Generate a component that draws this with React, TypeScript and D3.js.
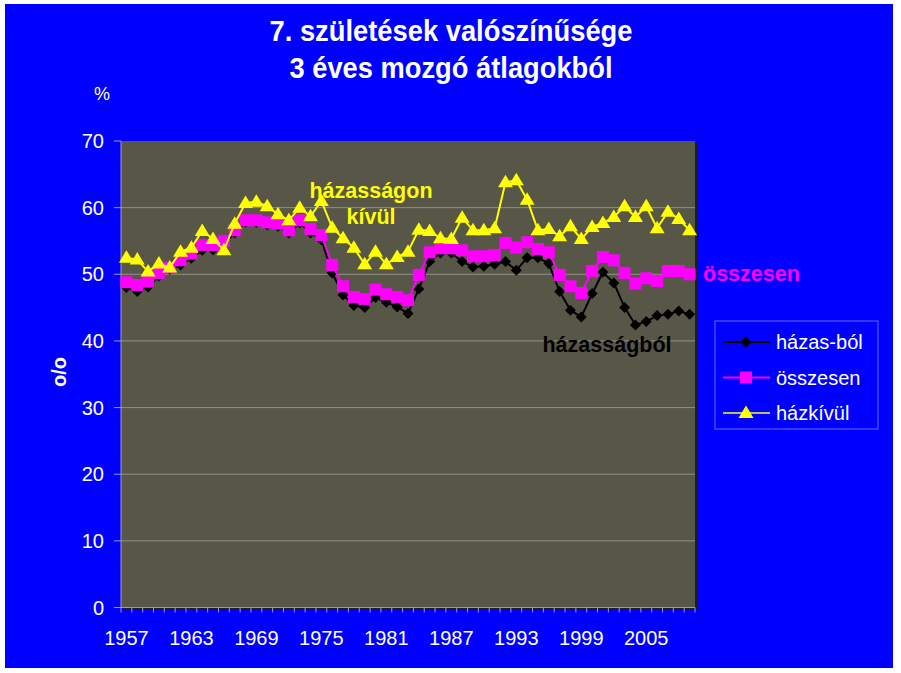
import React from "react";
import * as d3 from "d3";

const years: number[] = d3.range(1957, 2010);

const hazas: number[] = [
  48.0, 47.4, 48.1, 49.7, 50.7, 51.4, 52.4, 53.6, 53.7, 54.6,
  56.2, 57.8, 57.8, 57.4, 57.2, 56.2, 57.7, 56.2, 55.2, 50.2,
  46.9, 45.3, 45.0, 46.5, 45.8, 45.1, 44.1, 47.8, 51.9, 53.2,
  53.2, 51.9, 51.1, 51.2, 51.5, 51.9, 50.6, 52.5, 52.5, 51.6,
  47.4, 44.6, 43.6, 47.1, 50.3, 48.7, 45.0, 42.4, 42.9, 43.8,
  44.0, 44.5, 44.0,
];

const osszesen: number[] = [
  48.8, 48.4, 48.9, 50.2, 51.0, 52.1, 53.1, 54.4, 54.4, 55.0,
  56.6, 58.1, 58.1, 57.8, 57.6, 56.6, 58.1, 56.8, 55.9, 51.4,
  48.2, 46.6, 46.3, 47.7, 47.0, 46.6, 46.1, 49.9, 53.3, 53.9,
  53.9, 53.6, 52.7, 52.7, 52.9, 54.7, 54.0, 54.8, 53.8, 53.3,
  49.9, 48.2, 47.2, 50.5, 52.6, 52.1, 50.2, 48.6, 49.4, 49.0,
  50.5, 50.5, 50.0,
];

const hazkivul: number[] = [
  52.5, 52.2, 50.4, 51.6, 51.0, 53.4, 54.0, 56.5, 55.3, 53.6,
  57.6, 60.7, 60.9, 60.2, 59.0, 58.1, 60.0, 58.7, 61.0, 57.0,
  55.4, 54.0, 51.5, 53.4, 51.5, 52.6, 53.4, 56.7, 56.5, 55.4,
  55.3, 58.5, 56.6, 56.6, 56.9, 63.8, 64.1, 61.2, 56.6, 56.8,
  55.7, 57.2, 55.3, 57.1, 57.7, 58.6, 60.2, 58.6, 60.2, 56.9,
  59.4, 58.3, 56.6,
];

const yTicks: number[] = [0, 10, 20, 30, 40, 50, 60, 70];
const xLabelYears: number[] = [1957, 1963, 1969, 1975, 1981, 1987, 1993, 1999, 2005];

const titleLines: string[] = ["7. születések valószínűsége", "3 éves mozgó átlagokból"];
const seriesNames: string[] = ["házas-ból", "összesen", "házkívül"];

const FONT = "'Liberation Sans', Arial, Helvetica, sans-serif";

type Shape = "diamond" | "square" | "triangle";

function markerPath(shape: Shape, x: number, y: number): string {
  if (shape === "diamond") {
    const r = 5.5;
    return `M${x},${y - r}L${x + r},${y}L${x},${y + r}L${x - r},${y}Z`;
  }
  if (shape === "square") {
    const h = 6;
    return `M${x - h},${y - h}H${x + h}V${y + h}H${x - h}Z`;
  }
  return `M${x},${y - 7.5}L${x + 7.5},${y + 5}L${x - 7.5},${y + 5}Z`;
}

export default function App() {
  const W = 901;
  const H = 673;
  const left = 121;
  const right = 695;
  const top = 141;
  const bottom = 607.5;

  const x = d3.scaleBand<number>().domain(years).range([left, right]).padding(0);
  const y = d3.scaleLinear().domain([0, 70]).range([bottom, top]);
  const cx = (yr: number) => (x(yr) as number) + x.bandwidth() / 2;

  const line = d3
    .line<number>()
    .x((_, i) => cx(years[i]))
    .y((d) => y(d));

  const series = [
    { name: seriesNames[0], data: hazas, color: "#000000", legendLine: "#000000", shape: "diamond" as Shape },
    { name: seriesNames[1], data: osszesen, color: "#ff00ff", legendLine: "#ff00ff", shape: "square" as Shape },
    { name: seriesNames[2], data: hazkivul, color: "#ffff00", legendLine: "#bdbd5a", shape: "triangle" as Shape },
  ];

  const bandEdges = years.map((yr) => x(yr) as number).concat([right]);
  const titleWidths = [363, 323];
  const titleBaselines = [41, 78];

  return (
    <svg
      width={W}
      height={H}
      style={{ position: "absolute", left: 0, top: 0, display: "block" }}
      fontFamily={FONT}
    >
      <rect x={0} y={0} width={W} height={H} fill="#ffffff" />
      <rect x={5} y={4} width={888} height={664} fill="#0000ff" />

      {/* title */}
      {titleLines.map((t, i) => (
        <text
          key={t}
          x={451}
          y={titleBaselines[i]}
          textAnchor="middle"
          fill="#ffffff"
          fontWeight="bold"
          fontSize={30}
          textLength={titleWidths[i]}
          lengthAdjust="spacingAndGlyphs"
        >
          {t}
        </text>
      ))}

      <text x={102} y={100} textAnchor="middle" fill="#ffffcc" fontSize={18}>
        %
      </text>

      {/* plot area */}
      <rect x={left + 2} y={top + 2} width={right - left} height={bottom - top} fill="#202018" />
      <rect x={left} y={top} width={right - left} height={bottom - top} fill="#585747" />

      {/* gridlines */}
      {yTicks
        .filter((t) => t > 0 && t < 70)
        .map((t) => (
          <line key={t} x1={left} x2={right} y1={y(t)} y2={y(t)} stroke="#909088" strokeWidth={1} />
        ))}

      {/* y axis */}
      <line x1={left} x2={left} y1={top} y2={bottom} stroke="#9a9ab0" strokeWidth={1} />
      {yTicks.map((t) => (
        <g key={t}>
          <line x1={left - 7} x2={left} y1={y(t)} y2={y(t)} stroke="#9a9ad0" strokeWidth={1} />
          <text x={104} y={y(t) + 7} textAnchor="end" fill="#ffffff" fontSize={20}>
            {t}
          </text>
        </g>
      ))}
      <text
        transform={`translate(66,372) rotate(-90)`}
        textAnchor="middle"
        fill="#ffffff"
        fontWeight="bold"
        fontSize={20}
      >
        o/o
      </text>

      {/* x axis */}
      <line x1={left} x2={right} y1={bottom} y2={bottom} stroke="#9a9ab0" strokeWidth={1} />
      {bandEdges.map((e, i) => (
        <line key={i} x1={e} x2={e} y1={bottom} y2={bottom + 5} stroke="#9a9ad0" strokeWidth={1} />
      ))}
      {xLabelYears.map((yr) => (
        <text key={yr} x={cx(yr)} y={645} textAnchor="middle" fill="#ffffff" fontSize={20}>
          {yr}
        </text>
      ))}

      {/* series */}
      {series.map((s) => (
        <g key={s.name}>
          <path d={line(s.data) || ""} fill="none" stroke={s.color} strokeWidth={2} />
          {s.data.map((v, i) => (
            <path key={i} d={markerPath(s.shape, cx(years[i]), y(v))} fill={s.color} />
          ))}
        </g>
      ))}

      {/* annotations */}
      <text x={371} y={198} textAnchor="middle" fill="#ffff00" fontWeight="bold" fontSize={21.5}>
        házasságon
      </text>
      <text x={371} y={224} textAnchor="middle" fill="#ffff00" fontWeight="bold" fontSize={21.5}>
        kívül
      </text>
      <text x={703} y={281} fill="#ff00ff" fontWeight="bold" fontSize={21.5}>
        összesen
      </text>
      <text x={607} y={352} textAnchor="middle" fill="#000000" fontWeight="bold" fontSize={21.5}>
        házasságból
      </text>

      {/* legend */}
      <rect x={715} y={321} width={163} height={108} fill="none" stroke="#6a6aff" strokeWidth={1} />
      {series.map((s, i) => {
        const ly = 342 + i * 35.5;
        return (
          <g key={s.name}>
            <line x1={723} x2={770} y1={ly} y2={ly} stroke={s.legendLine} strokeWidth={2} />
            <path d={markerPath(s.shape, 746, ly)} fill={s.color} />
            <text x={776} y={ly + 7} fill="#ffffff" fontSize={20}>
              {s.name}
            </text>
          </g>
        );
      })}
    </svg>
  );
}
